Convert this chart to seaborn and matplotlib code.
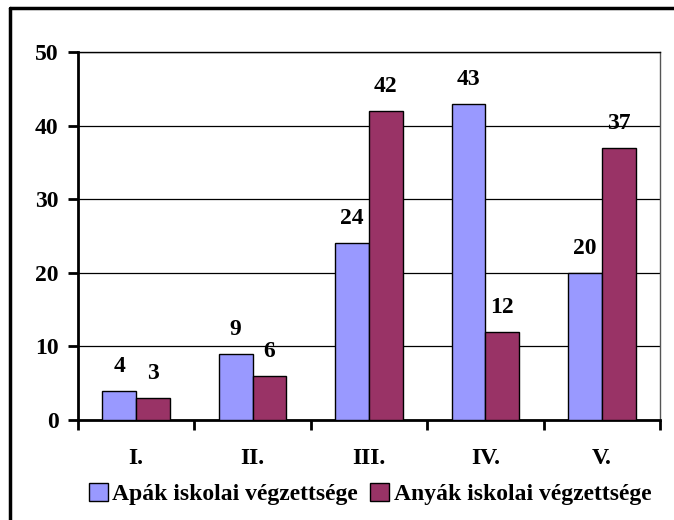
import matplotlib
matplotlib.use("Agg")
import matplotlib.pyplot as plt
import seaborn as sns
import pandas as pd
from matplotlib.lines import Line2D
from matplotlib.patches import Patch

categories = ["I.", "II.", "III.", "IV.", "V."]
series_names = ["Apák iskolai végzettsége", "Anyák iskolai végzettsége"]
apak = [4, 9, 24, 43, 20]
anyak = [3, 6, 42, 12, 37]
colors = ["#9999FF", "#993366"]

df = pd.DataFrame({
    "cat": categories * 2,
    "val": apak + anyak,
    "series": [series_names[0]] * len(categories) + [series_names[1]] * len(categories),
})

sns.set_style("white")
plt.rcParams["font.family"] = ["Liberation Serif", "DejaVu Serif"]
plt.rcParams["font.weight"] = "bold"
plt.rcParams["text.color"] = "black"
plt.rcParams["xtick.color"] = "black"
plt.rcParams["ytick.color"] = "black"
plt.rcParams["xtick.labelcolor"] = "black"
plt.rcParams["ytick.labelcolor"] = "black"

FS = 17

fig = plt.figure(figsize=(6.74, 5.2), dpi=100)
ax = fig.add_axes([78 / 674, 1 - 420 / 520, (660 - 78) / 674, (420 - 52) / 520])

sns.barplot(data=df, x="cat", y="val", hue="series", palette=colors,
            width=0.58, edgecolor="black", linewidth=1.0, ax=ax,
            legend=False, saturation=1, zorder=3)

for cont in ax.containers:
    ax.bar_label(cont, padding=10, fontsize=FS, fontweight="bold", color="black")

ax.set_ylim(0, 50)
ax.set_xlim(-0.5, 4.5)
ax.set_yticks([0, 10, 20, 30, 40, 50])
ax.set_yticklabels(["0", "10", "20", "30", "40", "50"], fontsize=FS, fontweight="bold", color="black")
ax.set_xlabel("")
ax.set_ylabel("")
ax.yaxis.grid(True, color="black", linewidth=0.9, zorder=0)
ax.set_axisbelow(True)

ax.set_xticks([-0.5, 0.5, 1.5, 2.5, 3.5, 4.5])
ax.set_xticklabels([])
ax.set_xticks(range(len(categories)), minor=True)
ax.set_xticklabels(categories, minor=True, fontsize=FS, fontweight="bold", color="black")
ax.tick_params(axis="x", which="major", direction="out", length=7, width=2, color="black", bottom=True)
ax.tick_params(axis="x", which="minor", length=0, pad=20)
ax.tick_params(axis="y", direction="out", length=7, width=2, color="black", left=True, pad=7)

for s in ["left", "bottom"]:
    ax.spines[s].set_color("black")
    ax.spines[s].set_linewidth(2)
ax.spines["top"].set_color("black")
ax.spines["top"].set_linewidth(1)
ax.spines["right"].set_color("#555555")
ax.spines["right"].set_linewidth(1)

handles = [Patch(facecolor=c, edgecolor="black", linewidth=1) for c in colors]
fig.legend(handles, series_names, loc="center", bbox_to_anchor=(370 / 674, 1 - 494 / 520),
           ncol=2, frameon=False, labelcolor="black",
           prop={"family": "Liberation Serif", "weight": "bold", "size": FS},
           handlelength=0.8, handleheight=0.8, handletextpad=0.2, columnspacing=0.5)

# figure border (top and left visible)
fig.add_artist(Line2D([10 / 674, 1.0], [1 - 8 / 520, 1 - 8 / 520], color="black", linewidth=2.5,
                      transform=fig.transFigure))
fig.add_artist(Line2D([10 / 674, 10 / 674], [0.0, 1 - 8 / 520], color="black", linewidth=2.5,
                      transform=fig.transFigure))

fig.savefig("out.png", dpi=100)
